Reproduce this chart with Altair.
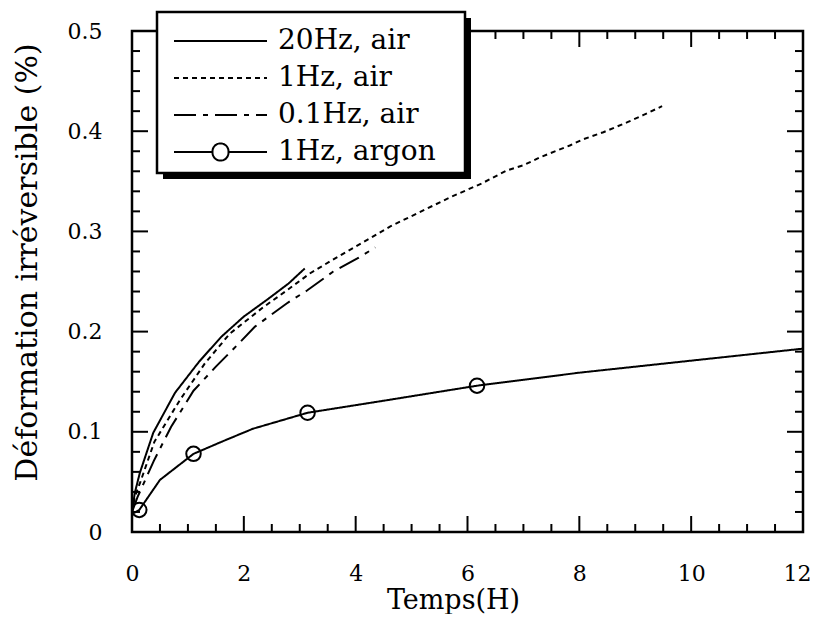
import altair as alt
import pandas as pd

SERIES = ["20Hz, air", "1Hz, air", "0.1Hz, air", "1Hz, argon"]

t_20 = [0, 0.05, 0.14, 0.38, 0.77, 1.2, 1.6, 2.0, 2.42, 2.8, 3.09]
v_20 = [0.02, 0.039, 0.059, 0.099, 0.139, 0.17, 0.195, 0.215, 0.232, 0.248, 0.263]

t_1 = [0, 0.05, 0.15, 0.4, 0.86, 1.3, 1.75, 2.34, 2.79, 3.18, 3.54, 4.13, 4.62, 5.1,
       5.69, 6.26, 6.71, 7.0, 7.3, 7.84, 8.07, 8.43, 8.86, 9.14, 9.48]
v_1 = [0.02, 0.035, 0.05, 0.09, 0.132, 0.168, 0.198, 0.224, 0.242, 0.258, 0.27, 0.289, 0.305, 0.318,
       0.334, 0.348, 0.361, 0.366, 0.374, 0.386, 0.392, 0.399, 0.409, 0.416, 0.425]

t_01 = [0, 0.1, 0.39, 0.7, 1.1, 1.5, 1.89, 2.2, 2.79, 3.13, 3.6, 4.03, 4.35]
v_01 = [0.02, 0.035, 0.071, 0.105, 0.141, 0.165, 0.187, 0.205, 0.229, 0.241, 0.26, 0.273, 0.284]

t_ar = [0, 0.13, 0.5, 1.1, 1.6, 2.16, 3.14, 4.5, 6.17, 8.0, 10.0, 12.0]
v_ar = [0.018, 0.022, 0.052, 0.078, 0.09, 0.103, 0.119, 0.131, 0.146, 0.159, 0.171, 0.183]

t_mark = [0.13, 1.1, 3.14, 6.17]
v_mark = [0.022, 0.078, 0.119, 0.146]

x_major = [0, 2, 4, 6, 8, 10, 12]
x_minor = [0.5, 1, 1.5, 2.5, 3, 3.5, 4.5, 5, 5.5, 6.5, 7, 7.5, 8.5, 9, 9.5, 10.5, 11, 11.5]
y_major = [0, 0.1, 0.2, 0.3, 0.4, 0.5]
y_minor = [round(0.02 * k, 2) for k in range(1, 25) if k % 5 != 0]

W, H = 671, 501
FONT = "DejaVu Serif"

rows = []
for name, ts, vs in [(SERIES[0], t_20, v_20), (SERIES[1], t_1, v_1),
                     (SERIES[2], t_01, v_01), (SERIES[3], t_ar, v_ar)]:
    for i, (t, v) in enumerate(zip(ts, vs)):
        rows.append({"series": name, "t": t, "v": v, "i": i})
df = pd.DataFrame(rows)
marks_df = pd.DataFrame({"t": t_mark, "v": v_mark})

xs = alt.Scale(domain=[0, 12], nice=False, zero=False)
ys = alt.Scale(domain=[0, 0.5], nice=False, zero=False)

x_axis = alt.Axis(
    values=x_major, title="Temps(H)", ticks=False, domain=False, grid=False,
    labelFont=FONT, labelFontSize=22, labelColor="black", labelPadding=31, labelFlush=False,
    labelAlign={"condition": {"test": "datum.value == 12", "value": "right"}, "value": "center"},
    labelOffset={"condition": {"test": "datum.value == 12", "value": 8}, "value": 0},
    titleFont=FONT, titleFontSize=27, titleFontWeight="normal", titleColor="black",
    titleX=321, titleY=68, titleBaseline="middle")
y_axis = alt.Axis(
    values=y_major, title="Déformation irréversible (%)", ticks=False, domain=False,
    grid=False, labelExpr="datum.value == 0 ? '0' : format(datum.value, '.1f')",
    labelFont=FONT, labelFontSize=22, labelColor="black", labelPadding=30, labelFlush=False,
    titleFont=FONT, titleFontSize=30, titleFontWeight="normal", titleColor="black",
    titleX=-105, titleY=231, titleBaseline="middle")

LINE_PATH = "M-1,0L6.75,0"
ARGON_PATH = ("M-1,0L2.21,0M3.54,0L6.75,0M2.21,0A0.667,0.667,0,1,0,3.54,0"
              "A0.667,0.667,0,1,0,2.21,0")

dash_scale = alt.Scale(domain=SERIES, range=[[1, 0], [5, 4], [22, 7, 5, 7], [1, 0]])
shape_scale = alt.Scale(domain=SERIES, range=[LINE_PATH, LINE_PATH, LINE_PATH, ARGON_PATH])

legend = alt.Legend(
    title=None, orient="none", legendX=25, legendY=-19,
    fillColor="transparent", strokeColor="transparent", padding=15,
    labelFont=FONT, labelFontSize=28, labelColor="black", labelOffset=78,
    symbolSize=576, symbolStrokeWidth=2, symbolStrokeColor="black",
    symbolFillColor="transparent", symbolOpacity=1, rowPadding=9,
    symbolType=LINE_PATH,
)


# inward tick marks on all four sides, positioned through the shared scales
def yticks(vals, length, side):
    xa, xb = (0, length) if side == "left" else (W - length, W)
    return alt.Chart(pd.DataFrame({"v": vals})).mark_rule(color="black", strokeWidth=2).encode(
        y=alt.Y("v:Q", scale=ys, axis=None), x=alt.value(xa), x2=alt.value(xb))


def xticks(vals, length, side):
    ya, yb = (0, length) if side == "top" else (H - length, H)
    return alt.Chart(pd.DataFrame({"t": vals})).mark_rule(color="black", strokeWidth=2).encode(
        x=alt.X("t:Q", scale=xs, axis=None), y=alt.value(ya), y2=alt.value(yb))


ticks = [
    yticks(y_major, 16, "left"), yticks(y_minor, 8, "left"),
    yticks(y_major, 16, "right"), yticks(y_minor, 8, "right"),
    xticks(x_major, 16, "top"), xticks(x_minor, 8, "top"),
    xticks(x_major, 16, "bottom"), xticks(x_minor, 8, "bottom"),
]

lines = alt.Chart(df).mark_line(color="black", strokeWidth=2).encode(
    x=alt.X("t:Q", scale=xs, axis=x_axis, title="Temps(H)"),
    y=alt.Y("v:Q", scale=ys, axis=y_axis, title="Déformation irréversible (%)"),
    strokeDash=alt.StrokeDash("series:N", scale=dash_scale, legend=legend, title=None),
    detail="series:N",
    order="i:Q",
)

circles = alt.Chart(marks_df).mark_point(
    shape="circle", filled=False, size=210, color="black", strokeWidth=2, opacity=1
).encode(
    x=alt.X("t:Q", scale=xs, axis=None),
    y=alt.Y("v:Q", scale=ys, axis=None),
)

legend_layer = alt.Chart(pd.DataFrame({"series": SERIES})).mark_point(
    opacity=0, filled=False, color="black", strokeWidth=2
).encode(
    x=alt.value(0), y=alt.value(0),
    shape=alt.Shape("series:N", scale=shape_scale, legend=legend, title=None),
    strokeDash=alt.StrokeDash("series:N", scale=dash_scale, legend=legend, title=None),
)

one = pd.DataFrame({"a": [0]})
frame = alt.Chart(one).mark_rect(fillOpacity=0, stroke="black", strokeWidth=2.5).encode(
    x=alt.value(0), x2=alt.value(W), y=alt.value(0), y2=alt.value(H))
shadow = alt.Chart(one).mark_rect(color="black").encode(
    x=alt.value(31), x2=alt.value(339), y=alt.value(-13), y2=alt.value(148))
box = alt.Chart(one).mark_rect(fill="white", stroke="black", strokeWidth=2.5).encode(
    x=alt.value(25), x2=alt.value(333), y=alt.value(-19), y2=alt.value(142))

chart = alt.layer(*ticks, lines, circles, frame, shadow, box, legend_layer).resolve_axis(
    x="independent", y="independent"
).properties(
    width=W, height=H,
    autosize=alt.AutoSizeParams(type="none"),
    padding={"left": 124, "top": 23, "right": 8, "bottom": 82},
).configure(background="white")

chart.save("out.html", embed_options={"renderer": "svg", "actions": False})
